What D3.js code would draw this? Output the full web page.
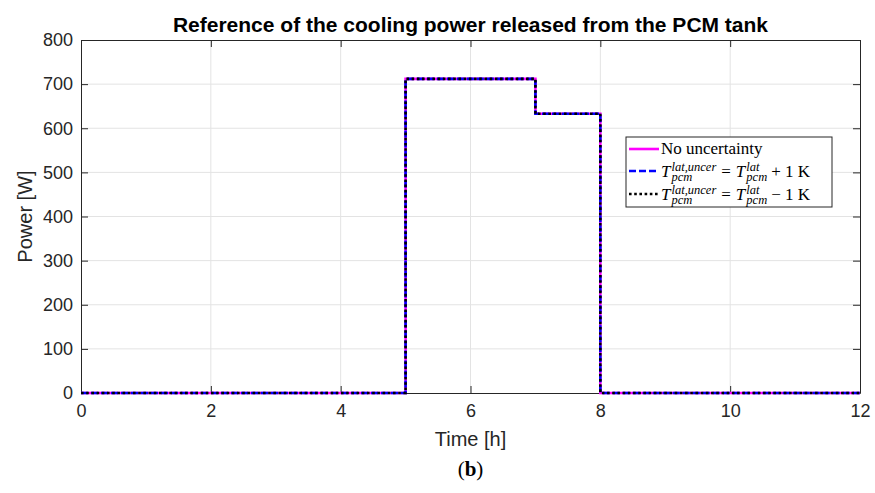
<!DOCTYPE html>
<html>
<head>
<meta charset="utf-8">
<script src="https://cdn.jsdelivr.net/npm/d3@7"></script>
<style>
  body { margin: 0; background: #fff; }
  svg { font-family: "Liberation Sans", Arial, sans-serif; }
</style>
</head>
<body>
<svg width="875" height="493"></svg>
<script>
const width = 875, height = 493;
const margin = {top: 40, right: 15, bottom: 100, left: 81};
const plotW = 860 - margin.left, plotH = 393 - margin.top;

// data: power steps (step-after at each time)
const timeH = [0, 5, 7, 8, 12];
const powerNoUnc = [0, 712, 633, 0, 0];
const powerPlus1K = [0, 712, 633, 0, 0];
const powerMinus1K = [0, 712, 633, 0, 0];

const xTicks = [0, 2, 4, 6, 8, 10, 12];
const yTicks = [0, 100, 200, 300, 400, 500, 600, 700, 800];

const svg = d3.select("svg");
const g = svg.append("g").attr("transform", `translate(${margin.left},${margin.top})`);

const x = d3.scaleLinear().domain([0, 12]).range([0, plotW]);
const y = d3.scaleLinear().domain([0, 800]).range([plotH, 0]);

// grid
g.append("g").selectAll("line").data(xTicks.slice(1, -1)).enter().append("line")
  .attr("x1", d => x(d)).attr("x2", d => x(d)).attr("y1", 0).attr("y2", plotH)
  .attr("stroke", "#e3e3e3").attr("stroke-width", 1);
g.append("g").selectAll("line").data(yTicks.slice(1, -1)).enter().append("line")
  .attr("y1", d => y(d)).attr("y2", d => y(d)).attr("x1", 0).attr("x2", plotW)
  .attr("stroke", "#e3e3e3").attr("stroke-width", 1);

// axes (ticks inside)
const styleAxis = sel => {
  sel.select(".domain").attr("stroke", "#262626");
  sel.selectAll(".tick line").attr("stroke", "#262626");
  sel.selectAll(".tick text").attr("fill", "#262626").attr("font-size", "18px")
    .attr("font-family", "Liberation Sans, Arial, sans-serif");
};
g.append("g").attr("transform", `translate(0,${plotH})`)
  .call(d3.axisBottom(x).tickValues(xTicks).tickSize(-7).tickPadding(11).tickSizeOuter(0))
  .call(styleAxis);
g.append("g")
  .call(d3.axisLeft(y).tickValues(yTicks).tickSize(-7).tickPadding(8).tickSizeOuter(0))
  .call(styleAxis);
g.append("g")
  .call(d3.axisTop(x).tickValues(xTicks).tickSize(-7).tickFormat("").tickSizeOuter(0))
  .call(styleAxis);
g.append("g").attr("transform", `translate(${plotW},0)`)
  .call(d3.axisRight(y).tickValues(yTicks).tickSize(-7).tickFormat("").tickSizeOuter(0))
  .call(styleAxis);

// lines
const line = d3.line().x(d => x(d[0])).y(d => y(d[1])).curve(d3.curveStepAfter);
const series = [
  {vals: powerNoUnc, color: "#ff00ff", dash: null, w: 2.6},
  {vals: powerPlus1K, color: "#0000ff", dash: "7,3", w: 2.6},
  {vals: powerMinus1K, color: "#000000", dash: "2.6,2.6", w: 2.6}
];
series.forEach(s => {
  g.append("path")
    .datum(timeH.map((t, i) => [t, s.vals[i]]))
    .attr("fill", "none")
    .attr("stroke", s.color)
    .attr("stroke-width", s.w)
    .attr("stroke-dasharray", s.dash)
    .attr("d", line);
});

// title & labels
svg.append("text").attr("x", margin.left + plotW / 2).attr("y", 32)
  .attr("text-anchor", "middle").attr("font-weight", "bold").attr("font-size", "21px")
  .attr("fill", "#000").text("Reference of the cooling power released from the PCM tank");
svg.append("text").attr("x", margin.left + plotW / 2).attr("y", 446)
  .attr("text-anchor", "middle").attr("font-size", "20px").attr("fill", "#262626").text("Time [h]");
svg.append("text").attr("transform", `translate(32,${margin.top + plotH / 2}) rotate(-90)`)
  .attr("text-anchor", "middle").attr("font-size", "20px").attr("fill", "#262626").text("Power [W]");
svg.append("text").attr("x", margin.left + plotW / 2).attr("y", 476)
  .attr("text-anchor", "middle").attr("font-family", "Liberation Serif, serif")
  .attr("font-size", "21px").attr("fill", "#000")
  .html('(<tspan font-weight="bold">b</tspan>)');

// legend
const lg = svg.append("g").attr("transform", "translate(626,137)");
lg.append("rect").attr("width", 206).attr("height", 70)
  .attr("fill", "#fff").attr("stroke", "#262626").attr("stroke-width", 1);
const rows = [12, 34, 57];
series.forEach((s, i) => {
  lg.append("line").attr("x1", 3).attr("x2", 33).attr("y1", rows[i]).attr("y2", rows[i])
    .attr("stroke", s.color).attr("stroke-width", 2.6).attr("stroke-dasharray", s.dash);
});
const serif = "Liberation Serif, DejaVu Serif, serif";
lg.append("text").attr("x", 35).attr("y", rows[0] + 5).attr("font-family", serif)
  .attr("font-size", "17px").attr("fill", "#000").text("No uncertainty");

// measure a string in the legend font
const measure = (str, size, italic) => {
  const t = lg.append("text").attr("font-family", serif).attr("font-size", size + "px")
    .attr("font-style", italic ? "italic" : "normal").text(str);
  const w = t.node().getComputedTextLength();
  t.remove();
  return w;
};
// one text per label, pieces placed with absolute x/y tspans
const mathLabel = (yy, sign) => {
  const base = yy + 6;
  const t = lg.append("text").attr("font-family", serif).attr("font-size", "17px").attr("fill", "#000");
  const add = (xx, yv, str, size, italic) => t.append("tspan").attr("x", xx).attr("y", yv)
    .attr("font-size", size + "px").attr("font-style", italic ? "italic" : "normal").text(str);
  let cx = 35;
  add(cx, base, "T", 17, true); cx += measure("T", 17, true) + 1;
  add(cx, base - 6, "lat,uncer", 12.5, true);
  add(cx, base + 4, "pcm", 12.5, true);
  cx += Math.max(measure("lat,uncer", 12.5, true), measure("pcm", 12.5, true)) + 5;
  add(cx, base, "=", 17, false); cx += measure("=", 17, false) + 5;
  add(cx, base, "T", 17, true); cx += measure("T", 17, true) + 1;
  add(cx, base - 6, "lat", 12.5, true);
  add(cx, base + 4, "pcm", 12.5, true);
  cx += Math.max(measure("lat", 12.5, true), measure("pcm", 12.5, true)) + 4;
  add(cx, base, sign + " 1 K", 17, false);
};
mathLabel(rows[1], "+");
mathLabel(rows[2], "\u2212");
</script>
</body>
</html>
